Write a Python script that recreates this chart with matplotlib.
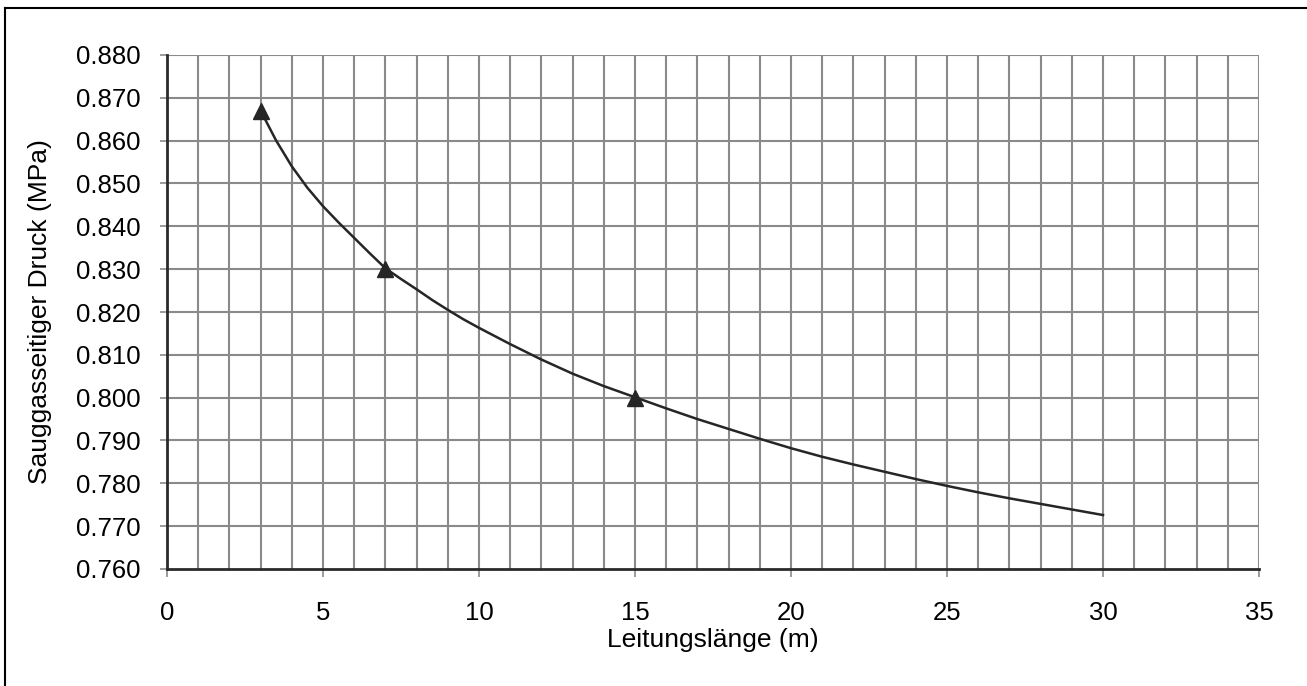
import matplotlib
matplotlib.use("Agg")
import matplotlib.pyplot as plt
from matplotlib.lines import Line2D

plt.rcParams['font.family'] = ['Liberation Sans', 'DejaVu Sans']

# Measured data points (markers)
marker_x = [3, 7, 15]
marker_y = [0.867, 0.830, 0.800]

# Curve
curve_x = [3, 3.5, 4, 4.5, 5, 5.5, 6, 6.5, 7, 7.5, 8, 8.5, 9, 9.5, 10,
           11, 12, 13, 14, 15, 16, 17, 18, 19, 20,
           21, 22, 23, 24, 25, 26, 27, 28, 29, 30]
curve_y = [0.8670, 0.8600, 0.8540, 0.8490, 0.8447, 0.8409, 0.8373, 0.8337,
           0.8302, 0.8277, 0.8253, 0.8228, 0.8205, 0.8183, 0.8163,
           0.8125, 0.8089, 0.8056, 0.8027, 0.8001, 0.7975, 0.7950, 0.7927,
           0.7904, 0.7882, 0.7862, 0.7844, 0.7827, 0.7810, 0.7794, 0.7779,
           0.7765, 0.7752, 0.7739, 0.7726]

x_ticks = [0, 5, 10, 15, 20, 25, 30, 35]
y_ticks = [0.760, 0.770, 0.780, 0.790, 0.800, 0.810, 0.820, 0.830, 0.840,
           0.850, 0.860, 0.870, 0.880]
x_label = "Leitungslänge (m)"
y_label = "Sauggasseitiger Druck (MPa)"

W, H = 1307, 686
fig = plt.figure(figsize=(W / 100, H / 100), dpi=100)
ax = fig.add_axes([167 / W, 1 - 569 / H, (1259 - 167) / W, (569 - 55) / H])

ax.set_xlim(0, 35)
ax.set_ylim(0.760, 0.880)

# grid: vertical every 1, horizontal every 0.01
for xv in range(1, 36):
    ax.axvline(xv, color='#8a8a8a', lw=1.5, zorder=1)
for yv in y_ticks[1:]:
    ax.axhline(yv, color='#8a8a8a', lw=1.5, zorder=1)

ax.plot(curve_x, curve_y, color='#262626', lw=1.8, zorder=3,
        solid_joinstyle='round')
ax.plot(marker_x, marker_y, linestyle='none', marker='^', markersize=11,
        color='#262626', zorder=4)

ax.set_xticks(x_ticks)
ax.set_yticks(y_ticks)
ax.set_yticklabels([f"{v:.3f}" for v in y_ticks])
ax.tick_params(axis='x', direction='out', length=6, width=1.2, color='#8a8a8a',
               pad=17, labelsize=18.5)
ax.tick_params(axis='y', direction='out', length=5, width=1.2, color='#8a8a8a',
               pad=14, labelsize=18.5)

for s in ['top', 'right']:
    ax.spines[s].set_visible(False)
for s in ['left', 'bottom']:
    ax.spines[s].set_color('#2a2a2a')
    ax.spines[s].set_linewidth(2)
    ax.spines[s].set_zorder(5)

fig.text(713 / W, 1 - 640 / H, x_label, ha='center', va='center', fontsize=19)
fig.text(40 / W, 1 - 312 / H, y_label, ha='center', va='center', fontsize=19,
         rotation=90)

# outer frame (left and top edges visible)
fig.add_artist(Line2D([4.5 / W, 4.5 / W], [0, 1 - 8 / H], transform=fig.transFigure,
                      color='black', lw=1.5))
fig.add_artist(Line2D([4.5 / W, 1], [1 - 8 / H, 1 - 8 / H], transform=fig.transFigure,
                      color='black', lw=1.5))

fig.savefig("out.png", dpi=100)
